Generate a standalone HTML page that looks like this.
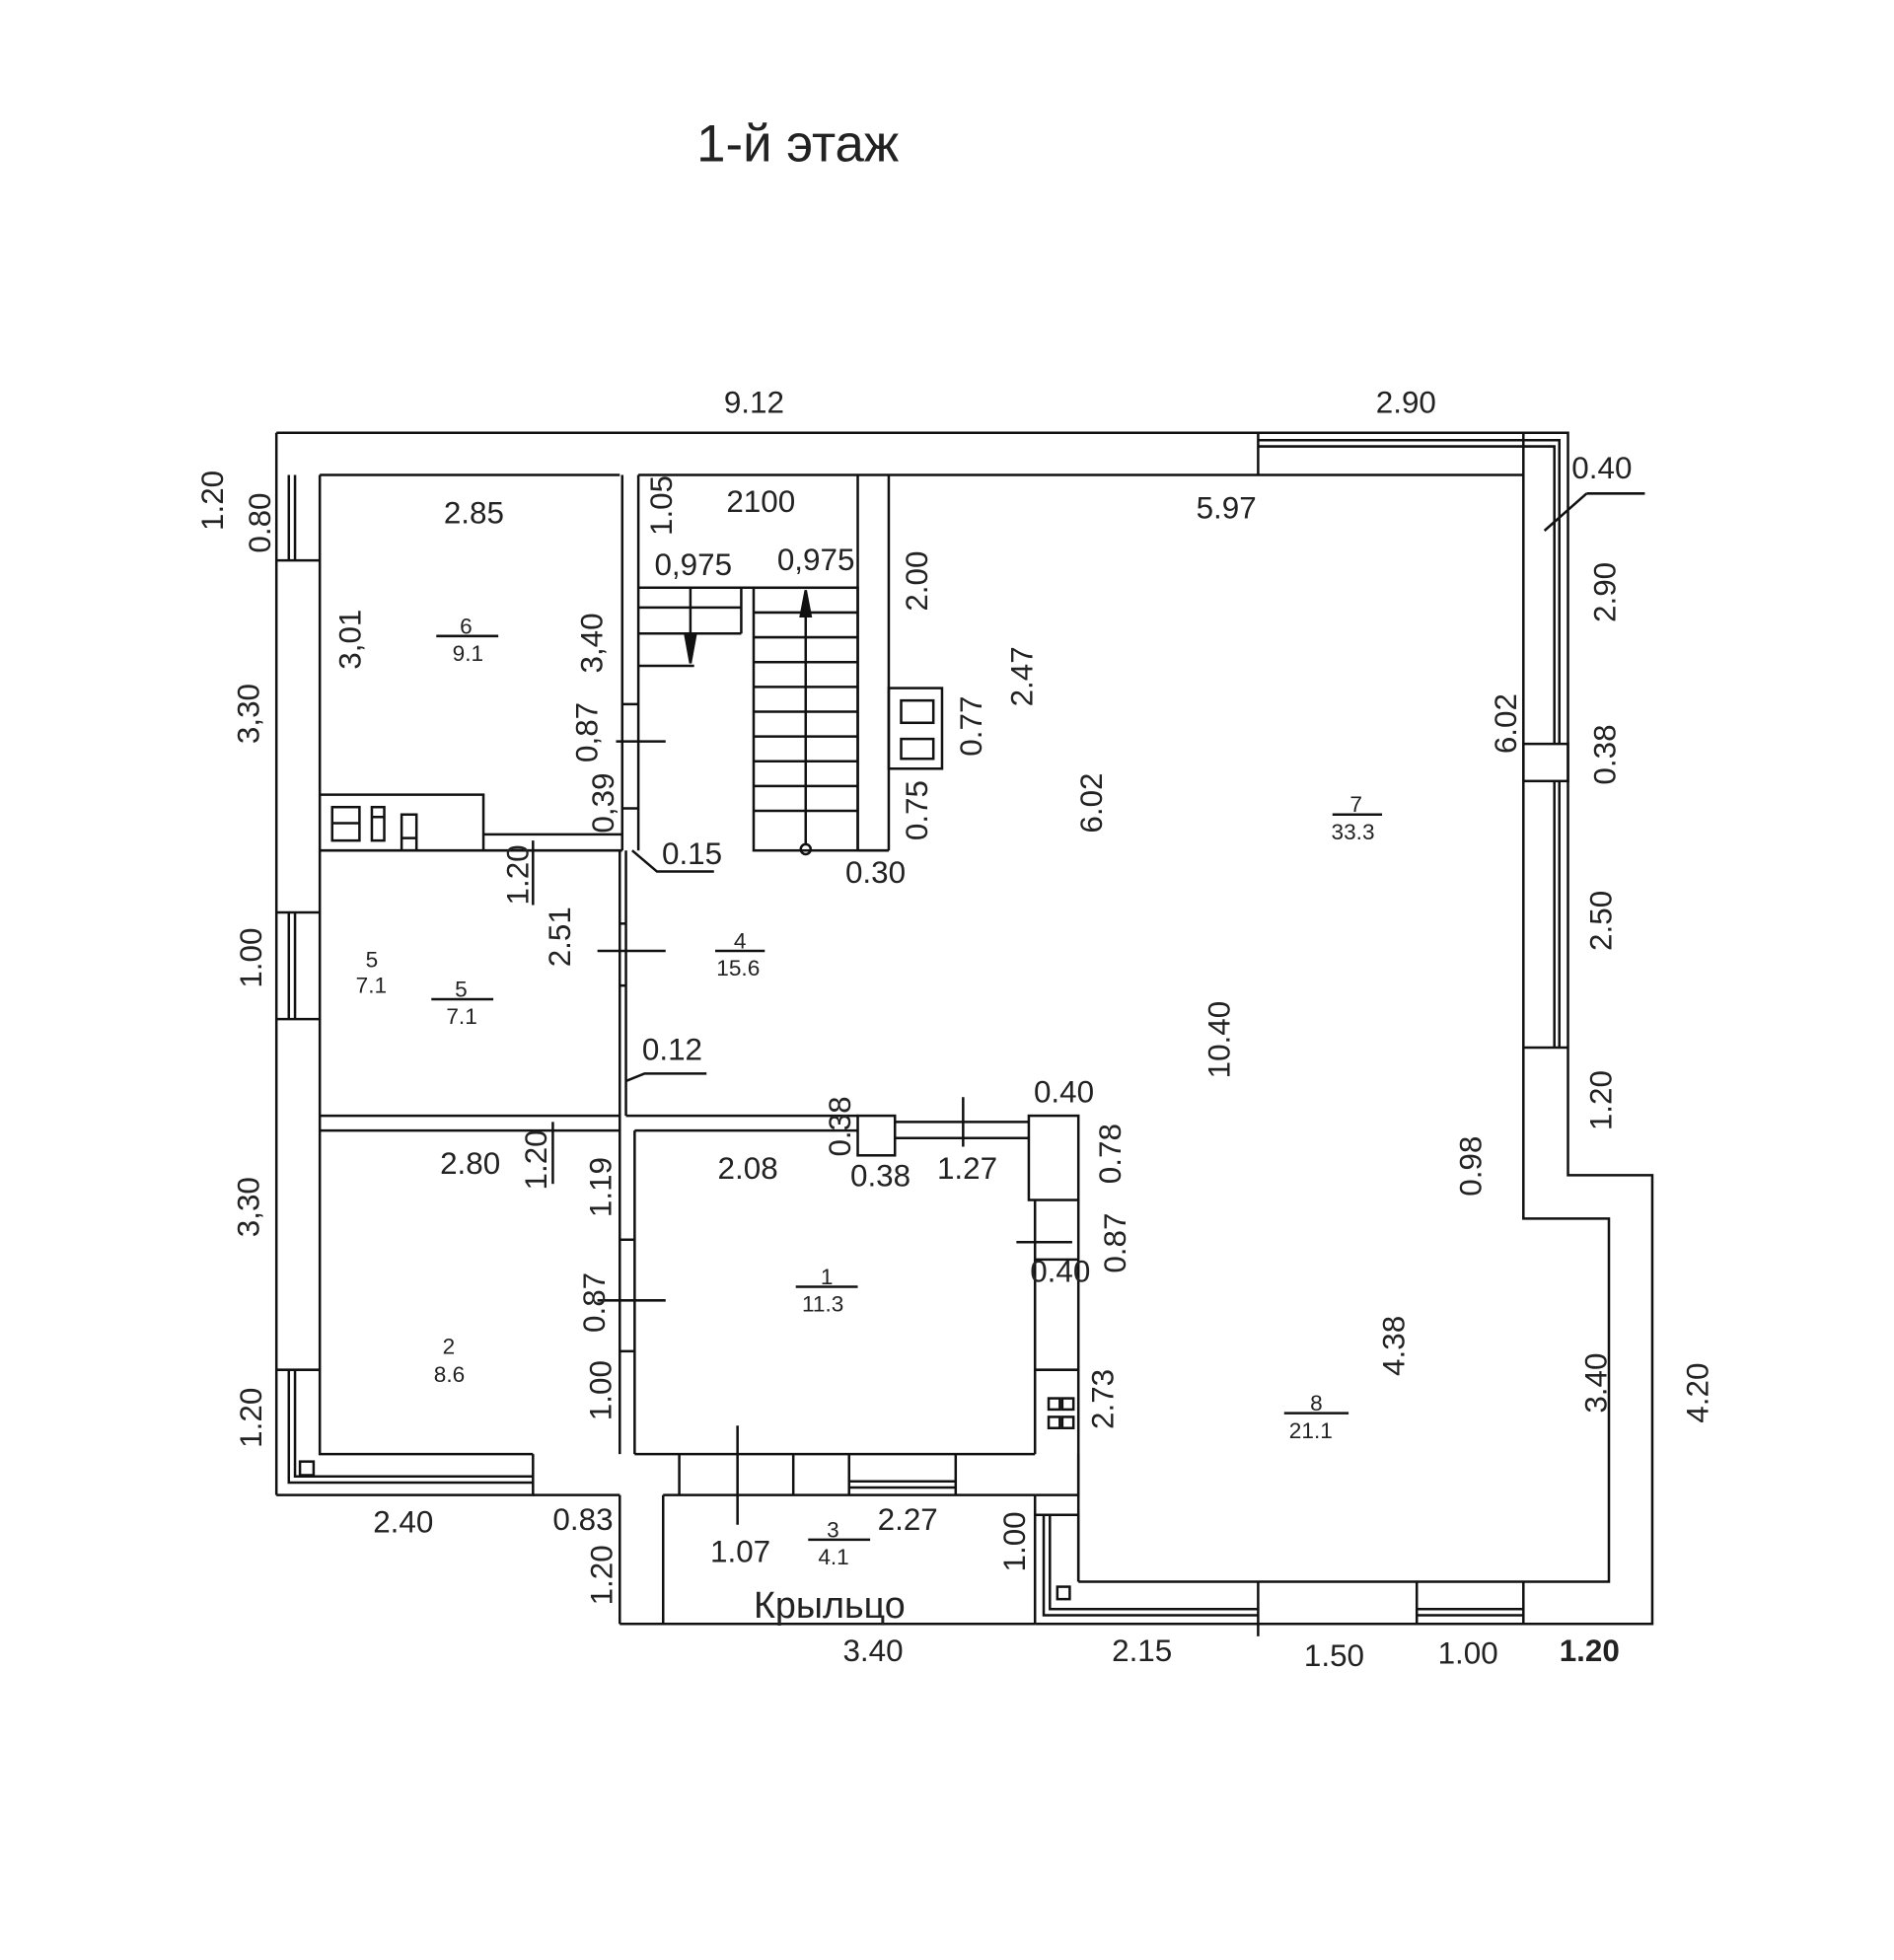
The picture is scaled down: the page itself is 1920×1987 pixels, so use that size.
<!DOCTYPE html>
<html><head><meta charset="utf-8"><style>
html,body{margin:0;padding:0;background:#fff}
svg{display:block}
text{font-family:"Liberation Sans",sans-serif;fill:#222}
</style></head><body>
<svg width="1920" height="1987" viewBox="0 0 1528 1581" xmlns="http://www.w3.org/2000/svg" font-size="25">
<g fill="none" stroke="#111" stroke-width="2">
<polyline points="223,349 1265,349 1265,948 1333,948 1333,1310 835,1310"/>
<line x1="223" y1="349" x2="223" y2="1206"/>
<polyline points="223,1206 430,1206 430,1173"/>
<polyline points="258,383 258,1173 430,1173"/>
<line x1="258" y1="383" x2="500" y2="383"/>
<line x1="515" y1="383" x2="1229" y2="383"/>
<line x1="1015" y1="349" x2="1015" y2="383"/>
<polyline points="1229,383 1229,983 1298,983 1298,1276 870,1276"/>
<line x1="1229" y1="349" x2="1229" y2="383"/>
<polyline points="1015,355 1258,355 1258,600"/>
<polyline points="1015,360 1254,360 1254,600"/>
<rect x="1229" y="600" width="36" height="30"/>
<line x1="1254" y1="630" x2="1254" y2="845"/><line x1="1258" y1="630" x2="1258" y2="845"/>
<line x1="1229" y1="845" x2="1265" y2="845"/>
<line x1="223" y1="452" x2="258" y2="452"/>
<line x1="233" y1="383" x2="233" y2="452"/><line x1="238" y1="383" x2="238" y2="452"/>
<line x1="223" y1="736" x2="258" y2="736"/><line x1="223" y1="822" x2="258" y2="822"/>
<line x1="233" y1="736" x2="233" y2="822"/><line x1="238" y1="736" x2="238" y2="822"/>
<line x1="223" y1="1105" x2="258" y2="1105"/>
<polyline points="233,1105 233,1196 430,1196"/><polyline points="238,1105 238,1191 430,1191"/>
<rect x="242" y="1179" width="11" height="11"/>
<line x1="430" y1="1206" x2="500" y2="1206"/>
<line x1="500" y1="1206" x2="500" y2="1310"/>
<line x1="500" y1="1310" x2="835" y2="1310"/>
<line x1="535" y1="1206" x2="835" y2="1206"/>
<line x1="535" y1="1206" x2="535" y2="1310"/>
<line x1="835" y1="1206" x2="835" y2="1310"/>
<polyline points="835,1222 870,1222 870,1276"/>
<line x1="512" y1="1173" x2="835" y2="1173"/>
<line x1="548" y1="1173" x2="548" y2="1206"/>
<line x1="640" y1="1173" x2="640" y2="1206"/>
<line x1="685" y1="1173" x2="685" y2="1206"/>
<line x1="771" y1="1173" x2="771" y2="1206"/>
<line x1="685" y1="1195" x2="771" y2="1195"/><line x1="685" y1="1200" x2="771" y2="1200"/>
<line x1="870" y1="1173" x2="870" y2="1206"/><line x1="835" y1="1206" x2="870" y2="1206"/>
<polyline points="842,1222 842,1303 1015,1303"/><polyline points="847,1222 847,1298 1015,1298"/>
<rect x="853" y="1280" width="10" height="10"/>
<line x1="1015" y1="1276" x2="1015" y2="1310"/>
<line x1="1143" y1="1276" x2="1143" y2="1310"/>
<line x1="1229" y1="1276" x2="1229" y2="1310"/>
<line x1="1143" y1="1298" x2="1229" y2="1298"/><line x1="1143" y1="1303" x2="1229" y2="1303"/>
<line x1="502" y1="383" x2="502" y2="686"/>
<line x1="515" y1="383" x2="515" y2="686"/>
<line x1="502" y1="568" x2="515" y2="568"/><line x1="502" y1="652" x2="515" y2="652"/>
<line x1="500" y1="686" x2="500" y2="1173"/>
<line x1="505" y1="686" x2="505" y2="900"/>
<line x1="500" y1="745" x2="505" y2="745"/><line x1="500" y1="795" x2="505" y2="795"/>
<line x1="512" y1="912" x2="512" y2="1173"/>
<line x1="500" y1="1000" x2="512" y2="1000"/><line x1="500" y1="1090" x2="512" y2="1090"/>
<line x1="258" y1="686" x2="502" y2="686"/>
<line x1="390" y1="673" x2="502" y2="673"/>
<polyline points="258,641 390,641 390,686"/>
<rect x="268" y="651" width="22" height="27"/><line x1="268" y1="664" x2="290" y2="664"/>
<rect x="300" y="651" width="10" height="27"/><line x1="300" y1="659" x2="310" y2="659"/>
<rect x="324" y="657" width="12" height="29"/><line x1="324" y1="676" x2="336" y2="676"/>
<line x1="258" y1="900" x2="500" y2="900"/><line x1="258" y1="912" x2="500" y2="912"/>
<line x1="505" y1="900" x2="692" y2="900"/>
<line x1="512" y1="912" x2="692" y2="912"/>
<rect x="692" y="900" width="30" height="32"/>
<line x1="722" y1="905" x2="830" y2="905"/><line x1="722" y1="918" x2="830" y2="918"/>
<rect x="830" y="900" width="40" height="68"/>
<line x1="835" y1="968" x2="835" y2="1173"/><line x1="870" y1="968" x2="870" y2="1276"/>
<line x1="835" y1="1016" x2="870" y2="1016"/><line x1="835" y1="1105" x2="870" y2="1105"/>
<rect x="846" y="1128" width="9" height="9"/><rect x="857" y="1128" width="9" height="9"/>
<rect x="846" y="1143" width="9" height="9"/><rect x="857" y="1143" width="9" height="9"/>
<line x1="515" y1="474" x2="692" y2="474"/>
<line x1="598" y1="474" x2="598" y2="511"/>
<line x1="515" y1="490" x2="598" y2="490"/><line x1="515" y1="511" x2="598" y2="511"/>
<line x1="515" y1="537" x2="560" y2="537"/>
<line x1="557" y1="474" x2="557" y2="535"/>
<polygon points="553,513 561,513 557,535" fill="#111"/>
<rect x="608" y="474" width="84" height="212"/>
<line x1="608" y1="494" x2="692" y2="494"/><line x1="608" y1="514" x2="692" y2="514"/>
<line x1="608" y1="534" x2="692" y2="534"/><line x1="608" y1="554" x2="692" y2="554"/>
<line x1="608" y1="574" x2="692" y2="574"/><line x1="608" y1="594" x2="692" y2="594"/>
<line x1="608" y1="614" x2="692" y2="614"/><line x1="608" y1="634" x2="692" y2="634"/>
<line x1="608" y1="654" x2="692" y2="654"/>
<line x1="650" y1="476" x2="650" y2="682"/>
<polygon points="646,497 654,497 650,476" fill="#111"/>
<circle cx="650" cy="685" r="4"/>
<line x1="692" y1="383" x2="692" y2="686"/><line x1="717" y1="383" x2="717" y2="686"/>
<line x1="692" y1="686" x2="717" y2="686"/>
<rect x="717" y="555" width="43" height="65"/>
<rect x="727" y="565" width="26" height="18"/><rect x="727" y="596" width="26" height="16"/>
<polyline points="510,686 530,703 576,703"/>
<polyline points="505,872 520,866 570,866"/>
<line x1="1246" y1="428" x2="1280" y2="398"/><line x1="1280" y1="398" x2="1327" y2="398"/>
<line x1="497" y1="598" x2="537" y2="598"/>
<line x1="482" y1="767" x2="537" y2="767"/>
<line x1="482" y1="1049" x2="537" y2="1049"/>
<line x1="820" y1="1002" x2="865" y2="1002"/>
<line x1="777" y1="885" x2="777" y2="925"/>
<line x1="430" y1="678" x2="430" y2="730"/>
<line x1="446" y1="905" x2="446" y2="955"/>
<line x1="595" y1="1150" x2="595" y2="1230"/>
<line x1="1015" y1="1310" x2="1015" y2="1320"/>
<line x1="352" y1="513" x2="402" y2="513"/>
<line x1="577" y1="767" x2="617" y2="767"/>
<line x1="348" y1="806" x2="398" y2="806"/>
<line x1="1075" y1="657" x2="1115" y2="657"/>
<line x1="642" y1="1038" x2="692" y2="1038"/>
<line x1="1036" y1="1140" x2="1088" y2="1140"/>
<line x1="652" y1="1242" x2="702" y2="1242"/>
</g>
<text x="562" y="130" style="font-size:42px" fill="#333">1-й этаж</text>
<g>
<text x="584" y="333">9.12</text><text x="1110" y="333">2.90</text>
<text x="1268" y="386">0.40</text>
<text x="358" y="422">2.85</text><text x="586" y="413">2100</text>
<text x="528" y="464">0,975</text><text x="627" y="460">0,975</text>
<text x="965" y="418">5.97</text>
<text x="534" y="697">0.15</text><text x="682" y="712">0.30</text>
<text x="518" y="855">0.12</text><text x="834" y="889">0.40</text>
<text x="355" y="947">2.80</text><text x="579" y="951">2.08</text>
<text x="686" y="957">0.38</text><text x="756" y="951">1.27</text>
<text x="831" y="1034">0.40</text>
<text x="301" y="1236">2.40</text><text x="446" y="1234">0.83</text>
<text x="708" y="1234">2.27</text><text x="573" y="1260">1.07</text>
<text x="608" y="1305" style="font-size:30px">Крыльцо</text>
<text x="680" y="1340">3.40</text><text x="897" y="1340">2.15</text>
<text x="1052" y="1344">1.50</text><text x="1160" y="1342">1.00</text>
<text x="1258" y="1340" font-weight="bold">1.20</text>
</g>
<g style="font-size:18px">
<text x="371" y="511">6</text><text x="365" y="533">9.1</text>
<text x="592" y="765">4</text><text x="578" y="787">15.6</text>
<text x="295" y="780">5</text><text x="287" y="801">7.1</text>
<text x="367" y="804">5</text><text x="360" y="826">7.1</text>
<text x="1089" y="655">7</text><text x="1074" y="677">33.3</text>
<text x="662" y="1036">1</text><text x="647" y="1058">11.3</text>
<text x="357" y="1092">2</text><text x="350" y="1115">8.6</text>
<text x="1057" y="1138">8</text><text x="1040" y="1160">21.1</text>
<text x="667" y="1240">3</text><text x="660" y="1262">4.1</text>
</g>
<g>
<text transform="translate(180,428) rotate(-90)">1.20</text>
<text transform="translate(218,446) rotate(-90)">0.80</text>
<text transform="translate(209,600) rotate(-90)">3,30</text>
<text transform="translate(211,797) rotate(-90)">1.00</text>
<text transform="translate(209,998) rotate(-90)">3,30</text>
<text transform="translate(211,1168) rotate(-90)">1.20</text>
<text transform="translate(291,540) rotate(-90)">3,01</text>
<text transform="translate(486,543) rotate(-90)">3,40</text>
<text transform="translate(542,432) rotate(-90)">1.05</text>
<text transform="translate(482,615) rotate(-90)">0,87</text>
<text transform="translate(495,672) rotate(-90)">0,39</text>
<text transform="translate(426,730) rotate(-90)">1.20</text>
<text transform="translate(460,780) rotate(-90)">2.51</text>
<text transform="translate(441,960) rotate(-90)">1.20</text>
<text transform="translate(493,982) rotate(-90)">1.19</text>
<text transform="translate(488,1075) rotate(-90)">0.87</text>
<text transform="translate(493,1146) rotate(-90)">1.00</text>
<text transform="translate(494,1295) rotate(-90)">1.20</text>
<text transform="translate(686,933) rotate(-90)">0.38</text>
<text transform="translate(748,493) rotate(-90)">2.00</text>
<text transform="translate(833,570) rotate(-90)">2.47</text>
<text transform="translate(792,610) rotate(-90)">0.77</text>
<text transform="translate(748,678) rotate(-90)">0.75</text>
<text transform="translate(889,672) rotate(-90)">6.02</text>
<text transform="translate(992,870) rotate(-90)">10.40</text>
<text transform="translate(1223,608) rotate(-90)">6.02</text>
<text transform="translate(1303,502) rotate(-90)">2.90</text>
<text transform="translate(1303,633) rotate(-90)">0.38</text>
<text transform="translate(1300,767) rotate(-90)">2.50</text>
<text transform="translate(1300,912) rotate(-90)">1.20</text>
<text transform="translate(1195,965) rotate(-90)">0.98</text>
<text transform="translate(904,955) rotate(-90)">0.78</text>
<text transform="translate(908,1027) rotate(-90)">0.87</text>
<text transform="translate(898,1153) rotate(-90)">2.73</text>
<text transform="translate(1133,1110) rotate(-90)">4.38</text>
<text transform="translate(1296,1140) rotate(-90)">3.40</text>
<text transform="translate(1378,1148) rotate(-90)">4.20</text>
<text transform="translate(827,1268) rotate(-90)">1.00</text>
</g>
</svg>
</body></html>
